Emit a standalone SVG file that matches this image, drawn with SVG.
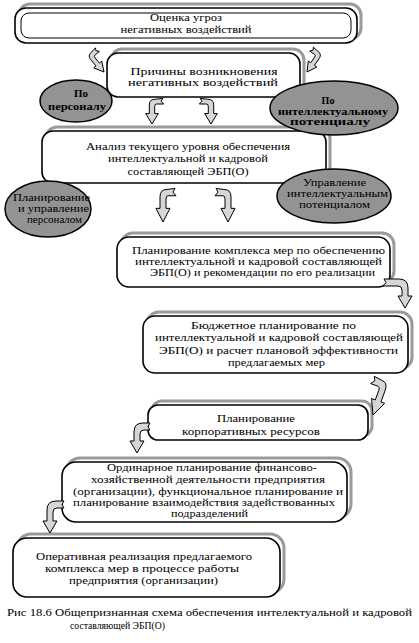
<svg xmlns="http://www.w3.org/2000/svg" xmlns:xlink="http://www.w3.org/1999/xlink" width="419" height="643" viewBox="0 0 419 643">
<style>
text{font-family:"Liberation Serif","DejaVu Serif","Times New Roman",serif;font-size:11px;fill:#000;text-anchor:middle}
.b{font-weight:bold;font-size:11px}
.s{font-size:10px}
.box{fill:#fff;stroke:#000;stroke-width:1.6}
.shd{fill:none;stroke:#9a9a9a;stroke-width:3}
.inner{fill:none;stroke:#000;stroke-width:1}
.ell{fill:#939393;stroke:#000;stroke-width:1.5}
.arr{fill:#d6d6d6;stroke:#000;stroke-width:1;stroke-linejoin:round}
.cap{text-anchor:start}
</style>
<defs>
<path id="ha" class="arr" vector-effect="non-scaling-stroke" d="M0,0 L-7,-13 L-3,-13 L-3,-24 Q-3,-31 4,-31 L12,-32 L10,-28.5 L13,-25 L5,-25 Q3,-25 3,-22 L3,-13 L7,-13 Z"/>
</defs>
<rect width="419" height="643" fill="#fff"/>

<g id="n1">
<rect class="shd" x="19" y="4" width="342" height="35" rx="11"/>
<rect class="box" x="15" y="8" width="342" height="35" rx="11"/>
<rect class="inner" x="21" y="13" width="330" height="25" rx="8"/>
<text x="186" y="21" textLength="72" lengthAdjust="spacingAndGlyphs">Оценка угроз</text>
<text x="186" y="33" textLength="131" lengthAdjust="spacingAndGlyphs">негативных воздействий</text>
</g>

<g id="n2">
<rect class="shd" x="111" y="49" width="193" height="44" rx="11"/>
<rect class="box" x="107" y="53" width="193" height="44" rx="11"/>
<text x="204" y="75" textLength="147" lengthAdjust="spacingAndGlyphs">Причины возникновения</text>
<text x="203" y="86" textLength="150" lengthAdjust="spacingAndGlyphs">негативных воздействий</text>
</g>

<g id="n3">
<rect class="shd" x="46" y="127" width="284" height="52" rx="11"/>
<rect class="box" x="42" y="131" width="284" height="52" rx="11"/>
<text x="188" y="150" textLength="204" lengthAdjust="spacingAndGlyphs">Анализ текущего уровня обеспечения</text>
<text x="188" y="162" textLength="160" lengthAdjust="spacingAndGlyphs">интеллектуальной и кадровой</text>
<text x="188" y="175" textLength="121" lengthAdjust="spacingAndGlyphs">составляющей ЭБП(О)</text>
</g>

<g id="e1">
<ellipse class="ell" cx="76" cy="101" rx="36" ry="21"/>
<text class="b" x="81" y="97">По</text>
<text class="b" x="77" y="110" textLength="58" lengthAdjust="spacingAndGlyphs">персоналу</text>
</g>

<g id="e2">
<ellipse class="ell" cx="334" cy="108" rx="64" ry="27"/>
<text class="b s" x="328" y="104">По</text>
<text class="b s" x="333" y="115" textLength="110" lengthAdjust="spacingAndGlyphs">интеллектуальному</text>
<text class="b s" x="330" y="125" textLength="80" lengthAdjust="spacingAndGlyphs">потенциалу</text>
</g>

<g id="e3">
<ellipse class="ell" cx="48" cy="209" rx="43" ry="28"/>
<text class="s" x="51.5" y="201" textLength="77" lengthAdjust="spacingAndGlyphs">Планирование</text>
<text class="s" x="53.5" y="212" textLength="71" lengthAdjust="spacingAndGlyphs">и управление</text>
<text class="s" x="54.5" y="223" textLength="55" lengthAdjust="spacingAndGlyphs">персоналом</text>
</g>

<g id="e4">
<ellipse class="ell" cx="334" cy="196" rx="57" ry="27"/>
<text class="s" x="334.5" y="186" textLength="63" lengthAdjust="spacingAndGlyphs">Управление</text>
<text class="s" x="337.5" y="197" textLength="101" lengthAdjust="spacingAndGlyphs">интеллектуальным</text>
<text class="s" x="334.5" y="208" textLength="71" lengthAdjust="spacingAndGlyphs">потенциалом</text>
</g>

<g id="n4">
<rect class="shd" x="121" y="233" width="273" height="50" rx="12"/>
<rect class="box" x="117" y="237" width="273" height="50" rx="12"/>
<text x="258.5" y="254" textLength="253" lengthAdjust="spacingAndGlyphs">Планирование комплекса мер по обеспечению</text>
<text x="258.5" y="265" textLength="247" lengthAdjust="spacingAndGlyphs">интеллектуальной и кадровой составляющей</text>
<text x="262.5" y="276" textLength="225" lengthAdjust="spacingAndGlyphs">ЭБП(О) и рекомендации по его реализации</text>
</g>

<g id="n5">
<rect class="shd" x="147" y="312" width="265" height="57" rx="12"/>
<rect class="box" x="143" y="316" width="265" height="57" rx="12"/>
<text x="273.5" y="329" textLength="165" lengthAdjust="spacingAndGlyphs">Бюджетное планирование по</text>
<text x="279" y="341" textLength="248" lengthAdjust="spacingAndGlyphs">интеллектуальной и кадровой составляющей</text>
<text x="278.5" y="354" textLength="239" lengthAdjust="spacingAndGlyphs">ЭБП(О) и расчет плановой эффективности</text>
<text x="276.5" y="366" textLength="97" lengthAdjust="spacingAndGlyphs">предлагаемых мер</text>
</g>

<g id="n6">
<rect class="shd" x="152" y="401" width="220" height="35" rx="10"/>
<rect class="box" x="148" y="405" width="220" height="35" rx="10"/>
<text x="256" y="422" textLength="78" lengthAdjust="spacingAndGlyphs">Планирование</text>
<text x="251" y="435" textLength="138" lengthAdjust="spacingAndGlyphs">корпоративных ресурсов</text>
</g>

<g id="n7">
<rect class="shd" x="66" y="458" width="285" height="60" rx="14"/>
<rect class="box" x="62" y="462" width="285" height="60" rx="14"/>
<text x="212" y="471" textLength="210" lengthAdjust="spacingAndGlyphs">Ординарное планирование финансово-</text>
<text x="208" y="483" textLength="234" lengthAdjust="spacingAndGlyphs">хозяйственной деятельности предприятия</text>
<text x="208" y="495" textLength="270" lengthAdjust="spacingAndGlyphs">(организации), функциональное планирование и</text>
<text x="204" y="506" textLength="262" lengthAdjust="spacingAndGlyphs">планирование взаимодействия задействованных</text>
<text x="209.5" y="517" textLength="77" lengthAdjust="spacingAndGlyphs">подразделений</text>
</g>

<g id="n8">
<rect class="shd" x="17" y="534" width="267" height="59" rx="14"/>
<rect class="box" x="13" y="538" width="267" height="59" rx="14"/>
<text x="144" y="560" textLength="216" lengthAdjust="spacingAndGlyphs">Оперативная реализация предлагаемого</text>
<text x="142" y="572" textLength="194" lengthAdjust="spacingAndGlyphs">комплекса мер в процессе работы</text>
<text x="143.5" y="584" textLength="149" lengthAdjust="spacingAndGlyphs">предприятия (организации)</text>
</g>

<g id="connectors">
<use href="#ha" xlink:href="#ha" transform="translate(104,72) rotate(-40) scale(0.75)"/>
<use href="#ha" xlink:href="#ha" transform="translate(307,72) rotate(35) scale(-0.75,0.75)"/>
<use href="#ha" xlink:href="#ha" transform="translate(152,124) scale(0.9,0.8)"/>
<use href="#ha" xlink:href="#ha" transform="translate(211,124) scale(-0.9,0.8)"/>
<use href="#ha" xlink:href="#ha" transform="translate(163,222) scale(1,1.05)"/>
<use href="#ha" xlink:href="#ha" transform="translate(228,222) scale(-1,1.05)"/>
<path class="arr" d="M405,308 L398,296 L402,296 L402,290 Q402,286 398,286 L383,286 L386,282.5 L384,279 L399,279 Q408,279 408,288 L408,296 L412,296 Z"/>
<use href="#ha" xlink:href="#ha" transform="translate(373,415) rotate(20) scale(-1,1.15)"/>
<path class="arr" d="M137,453 L130,441 L134,441 L134,432 Q134,423 143,423 L150,423 L148,426.5 L150,430 L144,430 Q140,430 140,434 L140,441 L144,441 Z"/>
<path class="arr" d="M50,533 L43,521 L47,521 L47,510 Q47,501 56,501 L64,501 L62,504.5 L64,508 L57,508 Q53,508 53,512 L53,521 L57,521 Z"/>
</g>

<g id="caption">
<text class="cap" x="7" y="616" textLength="405" lengthAdjust="spacingAndGlyphs">Рис 18.6 Общепризнанная схема обеспечения интелектуальной и кадровой</text>
<text class="cap" x="70" y="629" textLength="95" lengthAdjust="spacingAndGlyphs">составляющей ЭБП(О)</text>
</g>
</svg>
